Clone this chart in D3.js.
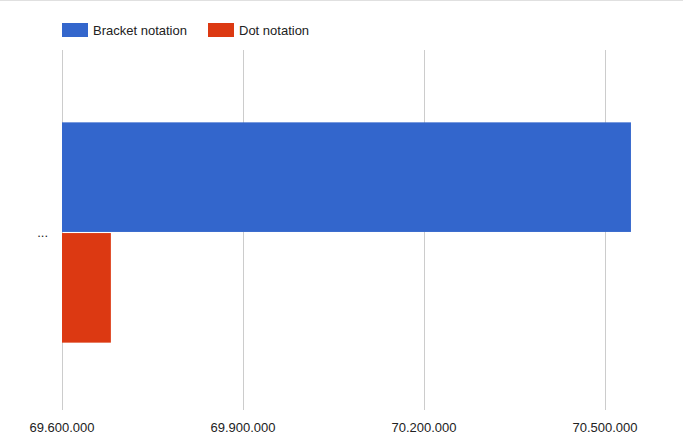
<!DOCTYPE html>
<html><head><meta charset="utf-8">
<script src="https://cdn.jsdelivr.net/npm/d3@7"></script>
<style>body{margin:0;background:#fff}svg{font-family:Arial,"Liberation Sans",sans-serif}</style>
</head><body><svg width="683" height="438"></svg>
<script>
'use strict';
var categories = ['...'];
var seriesNames = ['Bracket notation', 'Dot notation'];
var seriesColors = ['#3366cc', '#dc3912'];
var bracketValues = [70543000];
var dotValues = [69681000];
var tickValues = [69600000, 69900000, 70200000, 70500000];

var svg = d3.select('svg');
svg.append('line').attr('x1', 0).attr('x2', 683).attr('y1', 0.5).attr('y2', 0.5).attr('stroke', '#e0e0e0');

var x = d3.scaleLinear().domain([69600000, 70500000]).range([62, 605]);
var y = d3.scaleBand().domain(categories).range([67, 398]);
var inner = d3.scaleBand().domain(seriesNames).range([0, y.bandwidth()]).paddingInner(0.01).paddingOuter(0.5);

var fmt = function(d) { return d3.format(',')(d).replace(/,/g, '.'); };

svg.append('g').selectAll('line').data(tickValues).enter().append('line')
	.attr('x1', function(d) { return x(d) + 0.5; }).attr('x2', function(d) { return x(d) + 0.5; })
	.attr('y1', 50).attr('y2', 410).attr('stroke', '#cccccc');

svg.append('g').selectAll('text').data(tickValues).enter().append('text')
	.attr('x', function(d) { return x(d); }).attr('y', 432).attr('text-anchor', 'middle')
	.attr('font-size', 13).attr('fill', '#222').text(fmt);

var series = [bracketValues, dotValues];
series.forEach(function(vals, i) {
	svg.append('g').selectAll('rect').data(vals).enter().append('rect')
		.attr('x', x(69600000))
		.attr('y', function(d, j) { return y(categories[j]) + inner(seriesNames[i]); })
		.attr('width', function(d) { return x(d) - x(69600000); })
		.attr('height', inner.bandwidth())
		.attr('fill', seriesColors[i]);
});

svg.append('g').selectAll('text').data(categories).enter().append('text')
	.attr('x', 48).attr('y', function(d) { return y(d) + y.bandwidth() / 2 + 4; })
	.attr('text-anchor', 'end').attr('font-size', 13).attr('fill', '#222').text(function(d) { return d; });

var legendX = [62, 208];
seriesNames.forEach(function(n, i) {
	svg.append('rect').attr('x', legendX[i]).attr('y', 23).attr('width', 26).attr('height', 14).attr('fill', seriesColors[i]);
	svg.append('text').attr('x', legendX[i] + 31).attr('y', 35).attr('font-size', 13).attr('fill', '#222').text(n);
});
</script></body></html>
